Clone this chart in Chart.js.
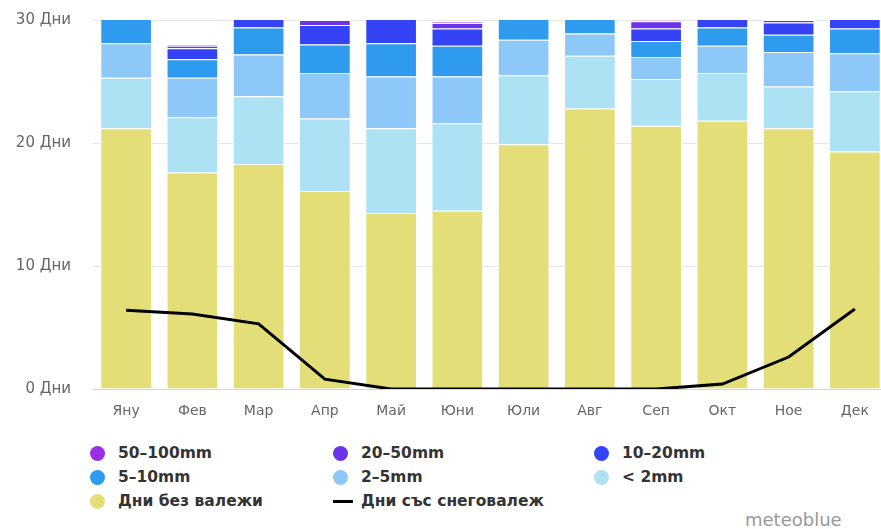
<!DOCTYPE html>
<html lang="bg">
<head>
    <meta charset="UTF-8">
    <title>Валежи по месеци</title>
    <script src="https://cdn.jsdelivr.net/npm/chart.js"></script>
    <style>
        body {
            margin: 0;
            background: #fff;
            width: 881px;
            height: 529px;
            overflow: hidden;
            position: relative;
            font-family: "DejaVu Sans", sans-serif;
        }

        /* canvas is a bit wider than the window, the last bar is cut like in the original */
        .chart-box {
            position: absolute;
            left: 0;
            top: -11px;
            width: 890px;
            height: 451px;
        }

        /* legend in 3 columns */
        .legend {
            position: absolute;
            left: 90px;
            top: 443px;
            display: grid;
            grid-template-columns: 243px 261px 200px;
            row-gap: 4px;
        }
        .legend .item {
            display: flex;
            align-items: center;
            height: 20px;
            font-size: 15.5px;
            font-weight: bold;
            color: #333;
        }
        .legend .dot {
            width: 15px;
            height: 15px;
            border-radius: 50%;
            margin-right: 13px;
            flex: none;
        }
        .legend .dash {
            width: 20px;
            height: 3px;
            background: #000;
            margin-right: 8px;
            flex: none;
        }

        .brand {
            position: absolute;
            left: 745px;
            top: 509px;
            font-size: 18px;
            color: #999;
        }
    </style>
</head>
<body>
    <div class="chart-box">
        <canvas id="rainChart"></canvas>
    </div>
    <div class="legend" id="legend"></div>
    <div class="brand">meteoblue</div>

    <script>
        // months and y ticks
        const months = ['Яну', 'Фев', 'Мар', 'Апр', 'Май', 'Юни', 'Юли', 'Авг', 'Сеп', 'Окт', 'Ное', 'Дек'];
        const dayTicks = [0, 10, 20, 30];

        // days per month in each class
        const dryDays   = [21.2, 17.6, 18.3, 16.1, 14.3, 14.5, 19.9, 22.8, 21.4, 21.8, 21.2, 19.3];
        const under2    = [4.1, 4.5, 5.5, 5.9, 6.9, 7.1, 5.6, 4.3, 3.8, 3.9, 3.4, 4.9];
        const mm2to5    = [2.8, 3.2, 3.4, 3.7, 4.2, 3.8, 2.9, 1.8, 1.8, 2.2, 2.8, 3.1];
        const mm5to10   = [2.9, 1.5, 2.2, 2.3, 2.7, 2.5, 2.0, 1.6, 1.3, 1.5, 1.4, 2.0];
        const mm10to20  = [0, 0.9, 1.4, 1.6, 2.3, 1.4, 0.5, 0.5, 1.0, 1.2, 1.0, 1.5];
        const mm20to50  = [0, 0.2, 0.2, 0.4, 0.5, 0.45, 0.1, 0, 0.6, 0.4, 0.2, 0.2];
        const mm50to100 = [0, 0.1, 0, 0.05, 0.1, 0.1, 0, 0, 0.07, 0, 0.06, 0];
        const snowDays  = [6.4, 6.1, 5.3, 0.8, 0, 0, 0, 0, 0, 0.4, 2.6, 6.5];

        function barSet(label, data, color) {
            return {
                type: 'bar',
                label: label,
                data: data,
                backgroundColor: color,
                borderColor: '#ffffff',
                borderWidth: 1,
                stack: 'rain',
                order: 1,
                barPercentage: 0.78,
                categoryPercentage: 1.0
            };
        }

        const datasets = [
            barSet('Дни без валежи', dryDays, '#e3de78'),
            barSet('< 2mm', under2, '#ade2f5'),
            barSet('2–5mm', mm2to5, '#8ec8f8'),
            barSet('5–10mm', mm5to10, '#2f9bef'),
            barSet('10–20mm', mm10to20, '#3443f5'),
            barSet('20–50mm', mm20to50, '#6a34ec'),
            barSet('50–100mm', mm50to100, '#9a2ee3'),
            {
                type: 'line',
                label: 'Дни със снеговалеж',
                data: snowDays,
                borderColor: '#000',
                borderWidth: 3,
                pointRadius: 0,
                tension: 0,
                fill: false,
                stack: 'snow',
                order: 0
            }
        ];

        const ctx = document.getElementById('rainChart').getContext('2d');
        const rainChart = new Chart(ctx, {
            data: { labels: months, datasets: datasets },
            options: {
                responsive: true,
                maintainAspectRatio: false,
                animation: false,
                layout: { padding: { top: 9, right: 2, left: 0, bottom: 0 } },
                plugins: {
                    legend: { display: false },
                    tooltip: { enabled: false }
                },
                scales: {
                    x: {
                        stacked: true,
                        grid: { display: false, drawTicks: false },
                        border: { display: true, color: '#ccd6eb', width: 1 },
                        ticks: {
                            color: '#666',
                            padding: 14,
                            font: { family: 'DejaVu Sans', size: 14 }
                        },
                        afterFit: function (scale) { scale.height = 51; }
                    },
                    y: {
                        stacked: true,
                        min: 0,
                        max: 30,
                        afterBuildTicks: function (scale) {
                            scale.ticks = dayTicks.map(v => ({ value: v }));
                        },
                        grid: {
                            drawTicks: false,
                            color: function (c) { return c.tick && c.tick.value === 0 ? 'rgba(0,0,0,0)' : '#e6e6e6'; }
                        },
                        border: { display: false },
                        ticks: {
                            color: '#666',
                            padding: 22,
                            font: { family: 'DejaVu Sans', size: 15 },
                            callback: function (v) { return v + ' Дни'; }
                        },
                        afterFit: function (scale) { scale.width = 93; }
                    }
                }
            }
        });

        // html legend, built from the chart datasets
        const legendOrder = ['50–100mm', '20–50mm', '10–20mm', '5–10mm', '2–5mm', '< 2mm', 'Дни без валежи', 'Дни със снеговалеж'];
        const legendBox = document.getElementById('legend');
        legendOrder.forEach(function (name) {
            const ds = rainChart.data.datasets.find(d => d.label === name);
            const item = document.createElement('div');
            item.className = 'item';
            const mark = document.createElement('span');
            if (ds.type === 'line') {
                mark.className = 'dash';
            } else {
                mark.className = 'dot';
                mark.style.background = ds.backgroundColor;
            }
            item.appendChild(mark);
            item.appendChild(document.createTextNode(ds.label));
            legendBox.appendChild(item);
        });
    </script>
</body>
</html>
